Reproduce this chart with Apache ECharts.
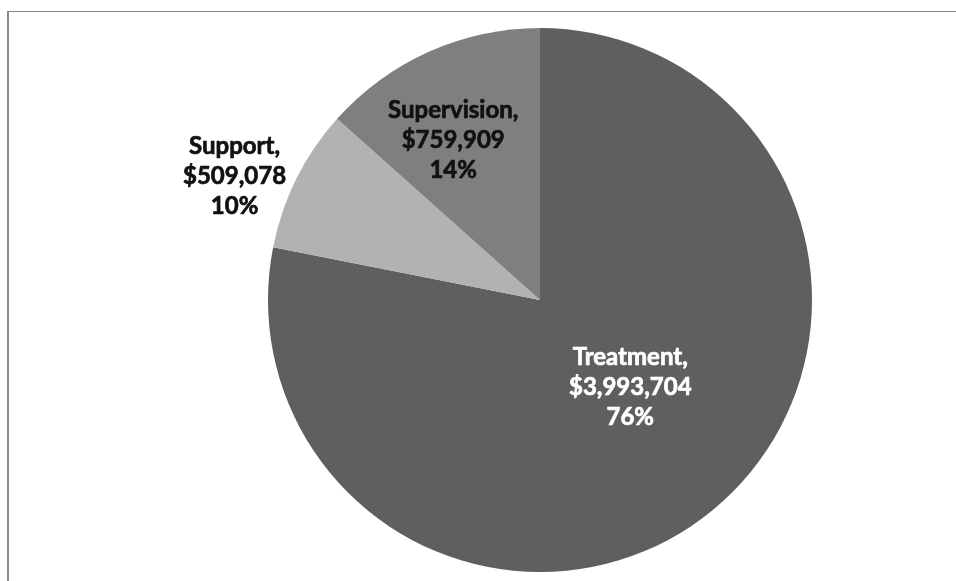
<!DOCTYPE html>
<html>
<head>
<meta charset="utf-8">
<script src="https://cdn.jsdelivr.net/npm/echarts@6/dist/echarts.min.js"></script>
<style>
  html, body { margin: 0; padding: 0; background: #fff; }
  #frame { position: absolute; left: 7px; top: 11px; width: 949px; height: 570px;
           border-top: 1px solid #8a8a8a; border-left: 2px solid #8a8a8a; box-sizing: border-box; }
  #chart { position: absolute; left: 0; top: 0; width: 956px; height: 581px; }
</style>
</head>
<body>
<div id="frame"></div>
<div id="chart"></div>
<script>
// Categories in clockwise order from 12 o'clock
const categories = ['Treatment', 'Support', 'Supervision'];
// Dollar amounts as printed in the labels
const amounts = [3993704, 509078, 759909];
// Percentages as printed in the labels
const percentLabels = ['76%', '10%', '14%'];
const sliceShares = [78.1, 8.5, 13.4];

const sliceColors = ['#5f5f5f', '#b2b2b2', '#7f7f7f'];
const labelColors = ['#ffffff', '#111111', '#111111'];
const labelOffsets = [[2, -20], [-181, -62], [-30, -33]];

const chart = echarts.init(document.getElementById('chart'), null, { renderer: 'canvas' });
chart.setOption({
  animation: false,
  series: [{
    type: 'pie',
    center: [540, 300],
    radius: 272,
    startAngle: 90,
    clockwise: true,
    avoidLabelOverlap: false,
    silent: true,
    labelLine: { show: false },
    data: categories.map((name, i) => ({
      name: name,
      value: sliceShares[i],
      itemStyle: { color: sliceColors[i] },
      label: {
        show: true,
        position: 'inside',
        offset: labelOffsets[i],
        color: labelColors[i],
        textBorderColor: labelColors[i],
        textBorderWidth: 0.7,
        fontFamily: 'Lato',
        fontWeight: 'bold',
        fontSize: 24,
        lineHeight: 30,
        align: 'center',
        formatter: () => name + ',\n$' + amounts[i].toLocaleString('en-US') + '\n' + percentLabels[i]
      }
    }))
  }]
});
</script>
</body>
</html>
